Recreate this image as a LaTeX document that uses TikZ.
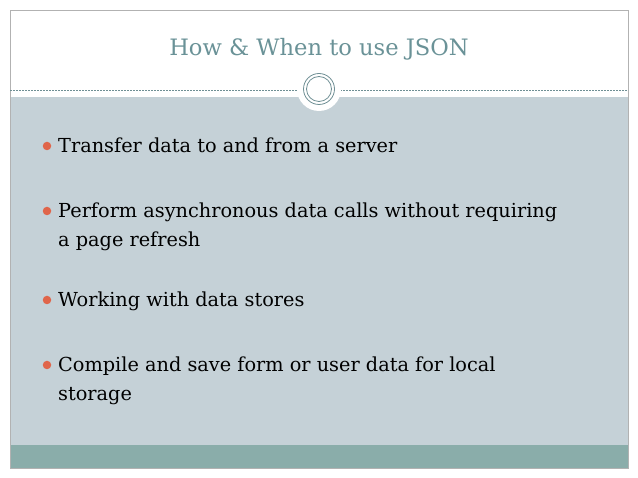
\documentclass[tikz,border=0pt]{standalone}
\usepackage{fontspec}
\setmainfont{DejaVu Serif}
\definecolor{body}{HTML}{C5D1D7}
\definecolor{bar}{HTML}{8AADAA}
\definecolor{ttl}{HTML}{6A9297}
\definecolor{ring}{HTML}{6F8F94}
\definecolor{bul}{HTML}{E0654A}
\begin{document}
\begin{tikzpicture}[x=1pt,y=-1pt,
  item/.style={anchor=base west,inner sep=0pt,font=\fontsize{19.3}{23}\selectfont,text=black},
  dot/.style={circle,fill=bul,minimum size=8.5pt,inner sep=0pt}]
\useasboundingbox (0,0) rectangle (638,478);
\fill[white] (0,0) rectangle (638,478);
\fill[body] (10,97) rectangle (628,445);
\fill[bar] (10,445) rectangle (628,468);
\draw[gray!60,line width=0.8pt] (10,10) rectangle (628,468);
\draw[ring,dashed,dash pattern=on 2pt off 1pt,line width=0.6pt] (10,90) -- (628,90);
\fill[white] (319,89) circle (22);
\draw[ring,line width=0.8pt] (319,89) circle (15.5);
\draw[ring,line width=0.8pt] (319,89) circle (12.5);
\node[anchor=base,font=\fontsize{22.6}{27}\selectfont,text=ttl] (title) at (319,56) {How \& When to use JSON};
\foreach \n/\y/\t in {a/153/Transfer data to and from a server,
  b/218/Perform asynchronous data calls without requiring,
  c/307/Working with data stores,
  d/372/Compile and save form or user data for local}{
  \node[item] (t\n) at (58,\y) {\t};
  \node[dot] (d\n) at (47,\y-7) {};
}
\node[item] (tb2) at (58,247) {a page refresh};
\node[item] (td2) at (58,401) {storage};
\end{tikzpicture}
\end{document}
